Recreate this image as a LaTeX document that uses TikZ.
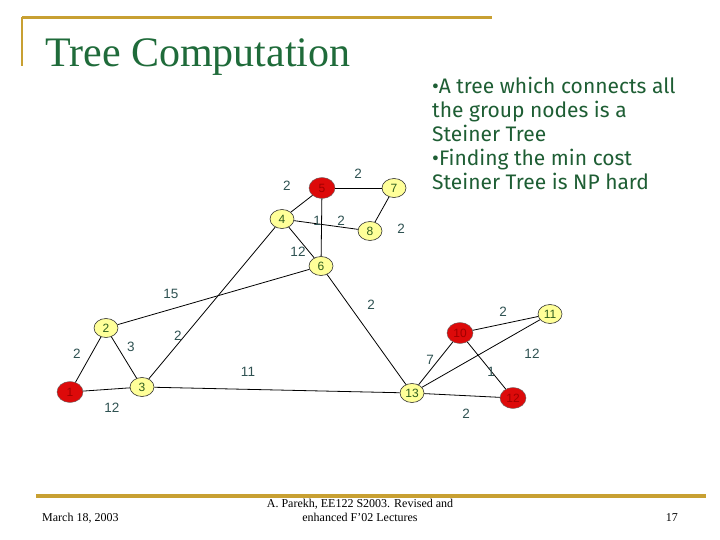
\documentclass[tikz,border=0pt]{standalone}
\usepackage{fontspec}
\setmainfont{Liberation Serif}
\setsansfont{Liberation Sans}
\newfontfamily\notefont{Fira Sans}
\usetikzlibrary{shapes.geometric}
\definecolor{Gold}{HTML}{C8A032}
\definecolor{Title}{HTML}{1F6B3A}
\definecolor{NoteGreen}{HTML}{1E5E34}
\definecolor{Weight}{HTML}{2F5252}
\definecolor{NodeText}{HTML}{2E5E1E}
\definecolor{Pale}{HTML}{FFFF99}
\definecolor{Group}{HTML}{DD0A0A}
\definecolor{GroupText}{HTML}{A00000}
\tikzset{plain/.style={ellipse,draw=black!80,fill=Pale,line width=.6pt,minimum width=24pt,minimum height=19pt,inner sep=0pt,font=\sffamily\fontsize{12}{12}\selectfont,text=NodeText},group/.style={ellipse,draw=black!60,fill=Group,line width=.4pt,minimum width=26pt,minimum height=21pt,inner sep=0pt,font=\sffamily\fontsize{12}{12}\selectfont,text=GroupText},link/.style={line width=.8pt,black},wt/.style={font=\sffamily\fontsize{13.5}{13.5}\selectfont,text=Weight,inner sep=0pt},rule/.style={Gold,line width=3pt}}

\begin{document}
\begin{tikzpicture}[x=1pt,y=-1pt]
  \useasboundingbox[fill=white] (0,0) rectangle (720,540);
  % frame and title
  \draw[rule] (22,18)--(492,18);
  \draw[Gold,line width=2pt] (22,17)--(22,66);
  \node[anchor=base west,text=Title,font=\fontsize{42}{42}\selectfont,inner sep=0pt] (title) at (45,67) {Tree Computation};
  \node[anchor=north west,text=NoteGreen,font=\notefont\fontsize{21}{24}\selectfont,align=left,inner sep=0pt] (notes) at (432,77)
    {•A tree which connects all\\the group nodes is a\\Steiner Tree\\•Finding the min cost\\Steiner Tree is NP hard};
  % graph nodes
  \node[group] (n5) at (322,188) {5};
  \node[plain] (n7) at (394,188) {7};
  \node[plain] (n4) at (282,219) {4};
  \node[plain] (n8) at (370,231) {8};
  \node[plain] (n6) at (321,266) {6};
  \node[plain] (n2) at (106,328) {2};
  \node[group] (n1) at (70,392) {1};
  \node[plain] (n3) at (142,387) {3};
  \node[group] (n10) at (460,333) {10};
  \node[plain] (n11) at (550,314) {11};
  \node[plain] (n13) at (412,393) {13};
  \node[group] (n12) at (513,398) {12};
  % links
  \foreach \a/\b in {n5/n7,n5/n4,n5/n6,n4/n8,n7/n8,n4/n6,n4/n3,n6/n2,n6/n13,n2/n1,n2/n3,n1/n3,n3/n13,n13/n10,n13/n11,n13/n12,n10/n11,n10/n12}
    \draw[link] (\a)--(\b);
  % weights
  \node[wt] (w57) at (358,174) {2};
  \node[wt] (w54) at (287,186) {2};
  \node[wt] (w56) at (317,221) {1};
  \node[wt] (w48) at (341,221) {2};
  \node[wt] (w78) at (401,229) {2};
  \node[wt] (w46) at (298,252) {12};
  \node[wt] (w62) at (171,294) {15};
  \node[wt] (w43) at (178,336) {2};
  \node[wt] (w613) at (371,305) {2};
  \node[wt] (w21) at (77,354) {2};
  \node[wt] (w23) at (131,347) {3};
  \node[wt] (w13) at (112,408) {12};
  \node[wt] (w313) at (248,372) {11};
  \node[wt] (w1011) at (503,312) {2};
  \node[wt] (w1311) at (532,354) {12};
  \node[wt] (w1310) at (430,360) {7};
  \node[wt] (w1012) at (491,372) {1};
  \node[wt] (w1312) at (466,414) {2};
  % footer
  \draw[Gold,line width=4pt] (36,496)--(706,496);
  \node[anchor=base west,font=\fontsize{12}{12}\selectfont,inner sep=0pt] (date) at (42,521) {March 18, 2003};
  \node[anchor=north,font=\fontsize{12}{14}\selectfont,align=center,inner sep=0pt] (credit) at (360,499) {A. Parekh, EE122 S2003. Revised and\\enhanced F'02 Lectures};
  \node[anchor=base east,font=\fontsize{12}{12}\selectfont,inner sep=0pt] (page) at (678,521) {17};
\end{tikzpicture}
\end{document}
